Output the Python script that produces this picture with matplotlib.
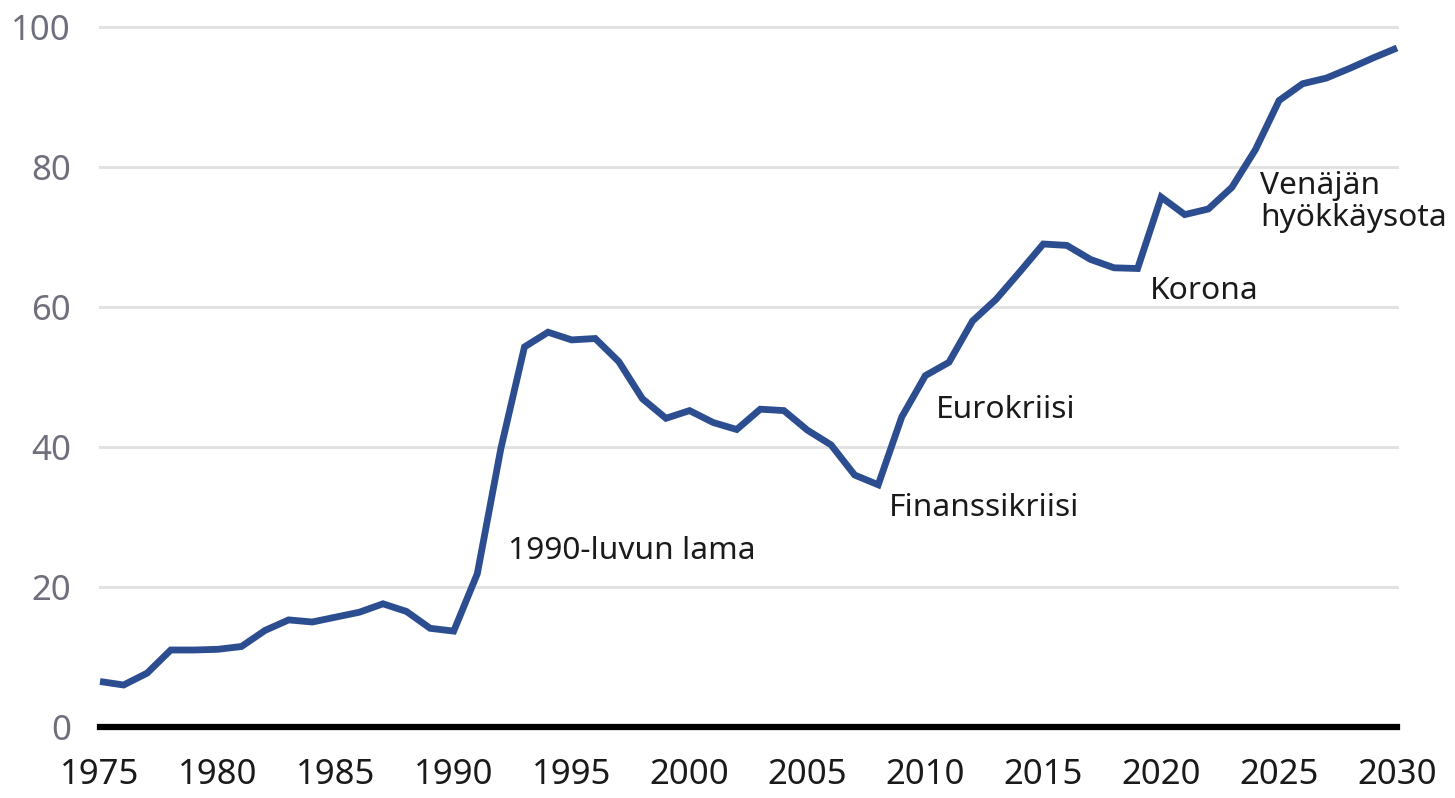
import matplotlib
matplotlib.use("Agg")
import matplotlib.pyplot as plt

years = list(range(1975, 2031))
values = [6.5, 6.0, 7.7, 11.0, 11.0, 11.1, 11.5, 13.8, 15.3, 15.0, 15.7, 16.4, 17.6, 16.5, 14.1, 13.7,
          21.9, 39.8, 54.3, 56.4, 55.3, 55.5, 52.2, 46.9, 44.1, 45.2, 43.5, 42.5, 45.4, 45.2,
          42.4, 40.3, 36.0, 34.6, 44.3, 50.2, 52.1, 58.0, 61.1, 65.0, 69.0, 68.8, 66.8, 65.6,
          65.5, 75.7, 73.2, 74.0, 77.1, 82.5, 89.5, 91.9, 92.7, 94.1, 95.6, 97.0]
y_ticks = [0, 20, 40, 60, 80, 100]
x_ticks = [1975, 1980, 1985, 1990, 1995, 2000, 2005, 2010, 2015, 2020, 2025, 2030]
annotations = [
    ("1990-luvun lama", 1992.3, 25.1),
    ("Finanssikriisi", 2008.45, 31.3),
    ("Eurokriisi", 2010.45, 45.3),
    ("Korona", 2019.5, 62.3),
    ("Venäjän\nhyökkäysota", 2024.2, 75.0),
]

plt.rcParams['font.family'] = ['Noto Sans', 'DejaVu Sans']

fig = plt.figure(figsize=(14.55, 7.98), dpi=100)
ax = fig.add_axes([100/1455, 71/798, 1297/1455, 700/798])

ax.set_xlim(1975, 2030)
ax.set_ylim(0, 100)

for yv in y_ticks[1:]:
    ax.axhline(yv, color='#e2e2e2', lw=2.2, zorder=1, clip_on=False)
ax.axhline(0, color='black', lw=4.5, zorder=3, clip_on=False)

ax.plot(years, values, color='#2c4d8f', lw=4.9, zorder=4, clip_on=False,
        solid_joinstyle='miter', solid_capstyle='butt')

for txt, xx, yy in annotations:
    ax.text(xx, yy, txt, fontsize=22.8, color='#1a1a1a', ha='left', va='center',
            linespacing=1.1, zorder=5)

for s in ax.spines.values():
    s.set_visible(False)

ax.set_yticks(y_ticks)
ax.set_yticklabels([str(v) for v in y_ticks], color='#6e6e7c', fontsize=25)
ax.set_xticks(x_ticks)
ax.set_xticklabels([str(v) for v in x_ticks], color='#1a1a1a', fontsize=25)
ax.tick_params(axis='both', length=0)
ax.tick_params(axis='y', pad=21)
ax.tick_params(axis='x', pad=22)

fig.savefig("out.png", dpi=100, facecolor='white')
